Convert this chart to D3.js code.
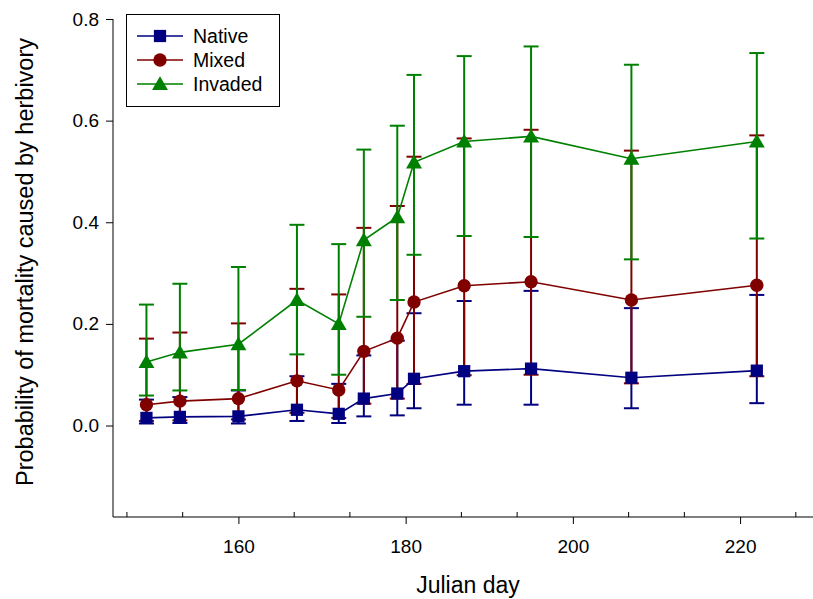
<!DOCTYPE html>
<html lang='en'>

<head>
   <meta charset='UTF-8'>
   <title>Herbivory mortality</title>
   <script src='https://d3js.org/d3.v7.min.js'></script>
   <style>
      body {
         margin: 0;
         background: #fff;
      }

      svg {
         font-family: 'Liberation Sans', Arial, sans-serif;
      }
   </style>
</head>

<body>
   <div id='chart'></div>
   <script>

      const days = [149, 153, 160, 167, 172, 175, 179, 181, 187, 195, 207, 222];

      const nativeMean = [0.015, 0.017, 0.018, 0.031, 0.023, 0.053, 0.063, 0.092, 0.107, 0.112, 0.094, 0.108];
      const nativeLow = [0.004, 0.005, 0.004, 0.009, 0.005, 0.018, 0.020, 0.034, 0.041, 0.041, 0.034, 0.044];
      const nativeHigh = [0.051, 0.056, 0.069, 0.097, 0.082, 0.138, 0.167, 0.221, 0.245, 0.265, 0.231, 0.257];

      const mixedMean = [0.041, 0.048, 0.053, 0.088, 0.070, 0.146, 0.172, 0.243, 0.275, 0.283, 0.247, 0.276];
      const mixedLow = [0.009, 0.010, 0.012, 0.025, 0.015, 0.043, 0.053, 0.082, 0.099, 0.100, 0.083, 0.097];
      const mixedHigh = [0.171, 0.183, 0.201, 0.269, 0.258, 0.389, 0.432, 0.529, 0.565, 0.582, 0.541, 0.571];

      const invadedMean = [0.125, 0.144, 0.160, 0.247, 0.200, 0.365, 0.410, 0.518, 0.559, 0.569, 0.525, 0.559];
      const invadedLow = [0.059, 0.069, 0.070, 0.140, 0.100, 0.214, 0.247, 0.336, 0.373, 0.371, 0.327, 0.368];
      const invadedHigh = [0.238, 0.279, 0.312, 0.395, 0.357, 0.543, 0.590, 0.690, 0.727, 0.746, 0.710, 0.733];

      const yTicks = [0, 0.2, 0.4, 0.6, 0.8];
      const xTicks = [160, 180, 200, 220];

      const series = [
         { name: 'Native', mean: nativeMean, low: nativeLow, high: nativeHigh, colour: '#000080', symbol: d3.symbolSquare, size: 150 },
         { name: 'Mixed', mean: mixedMean, low: mixedLow, high: mixedHigh, colour: '#800000', symbol: d3.symbolCircle, size: 140 },
         { name: 'Invaded', mean: invadedMean, low: invadedLow, high: invadedHigh, colour: '#008000', symbol: d3.symbolTriangle, size: 110 }
      ];

      const W = 813, H = 599;
      const svg = d3.select('#chart').append('svg').attr('width', W).attr('height', H);

      const x = d3.scaleLinear().domain([145, 228.6]).range([113, 812]);
      const y = d3.scaleLinear().domain([-0.18, 0.8]).range([517, 19]);

      // y axis
      svg.append('g')
         .attr('transform', 'translate(113,0)')
         .call(d3.axisLeft(y).tickValues(yTicks).tickFormat(d3.format('.1f')).tickSize(7).tickPadding(7))
         .call(g => g.select('.domain').attr('d', `M0,${y(0.8)}V517`))
         .call(g => g.selectAll('text').attr('font-size', 19).attr('fill', '#000').style('font-family', 'inherit'));

      // x axis, major ticks out, minor ticks in
      const minor = d3.range(146 + 2 / 3, 228, 20 / 3).filter(v => !xTicks.some(t => Math.abs(t - v) < 0.1));
      svg.append('g')
         .attr('transform', 'translate(0,517)')
         .call(d3.axisBottom(x).tickValues(xTicks).tickSize(7).tickPadding(16))
         .call(g => g.select('.domain').attr('d', 'M113,0H813'))
         .call(g => g.selectAll('text').attr('font-size', 19).attr('fill', '#000').style('font-family', 'inherit'));
      svg.append('g')
         .selectAll('line').data(minor).join('line')
         .attr('x1', d => x(d)).attr('x2', d => x(d))
         .attr('y1', 517).attr('y2', 512)
         .attr('stroke', '#000');

      svg.append('text')
         .attr('x', 468).attr('y', 593)
         .attr('text-anchor', 'middle')
         .attr('font-size', 23)
         .text('Julian day');

      svg.append('text')
         .attr('transform', 'translate(33,262) rotate(-90)')
         .attr('text-anchor', 'middle')
         .attr('font-size', 23.5)
         .text('Probability of mortality caused by herbivory');

      // error bars first
      const cap = 7.5;
      series.forEach(s => {
         const g = svg.append('g').attr('stroke', s.colour).attr('stroke-width', 2);
         days.forEach((d, i) => {
            const cx = x(d);
            g.append('line').attr('x1', cx).attr('x2', cx).attr('y1', y(s.low[i])).attr('y2', y(s.high[i]));
            g.append('line').attr('x1', cx - cap).attr('x2', cx + cap).attr('y1', y(s.low[i])).attr('y2', y(s.low[i]));
            g.append('line').attr('x1', cx - cap).attr('x2', cx + cap).attr('y1', y(s.high[i])).attr('y2', y(s.high[i]));
         });
      });

      // lines and markers
      const line = d3.line().x((d, i) => x(days[i])).y(d => y(d));
      series.forEach(s => {
         svg.append('path')
            .attr('d', line(s.mean))
            .attr('fill', 'none')
            .attr('stroke', s.colour)
            .attr('stroke-width', 1.6);
         svg.append('g').selectAll('path').data(s.mean).join('path')
            .attr('transform', (d, i) => `translate(${x(days[i])},${y(d) + (s.symbol === d3.symbolTriangle ? 1.5 : 0)})`)
            .attr('d', d3.symbol(s.symbol, s.size))
            .attr('fill', s.colour);
      });

      // legend
      const legend = svg.append('g');
      legend.append('rect')
         .attr('x', 126.5).attr('y', 14.5).attr('width', 153).attr('height', 92)
         .attr('fill', '#fff').attr('stroke', '#000').attr('stroke-width', 1);
      series.forEach((s, i) => {
         const ly = 36 + i * 24;
         legend.append('line').attr('x1', 137).attr('x2', 183).attr('y1', ly).attr('y2', ly)
            .attr('stroke', s.colour).attr('stroke-width', 1.6);
         legend.append('path')
            .attr('transform', `translate(160,${ly + (s.symbol === d3.symbolTriangle ? 1.5 : 0)})`)
            .attr('d', d3.symbol(s.symbol, s.size))
            .attr('fill', s.colour);
         legend.append('text').attr('x', 193).attr('y', ly + 7)
            .attr('font-size', 19.5).text(s.name);
      });

   </script>
</body>

</html>
